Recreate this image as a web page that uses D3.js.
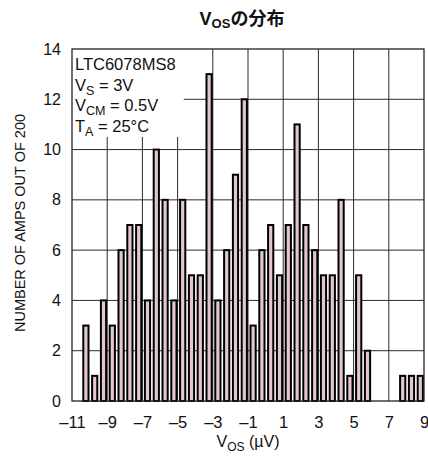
<!DOCTYPE html>
<html>
<head>
<meta charset="utf-8">
<script src="https://cdn.jsdelivr.net/npm/d3@7"></script>
<style>
  html, body { margin: 0; padding: 0; background: #fff; }
  svg { display: block; }
  text { font-family: "Liberation Sans Narrow", "Arial Narrow", "Liberation Sans", sans-serif; fill: #111; }
</style>
</head>
<body>
<div id="chart"></div>
<script>
// Histogram bins: 0.5 µV wide, left edges from -11 to 8.5 µV
const binStarts = d3.range(40).map(i => -11 + i * 0.5);
const counts = [0, 3, 1, 4, 3, 6, 7, 7, 4, 10,
                8, 4, 8, 5, 5, 13, 4, 6, 9, 12,
                3, 6, 7, 5, 7, 11, 7, 6, 5, 5,
                8, 1, 5, 2, 0, 0, 0, 1, 1, 1];
const xTicks = [-11, -9, -7, -5, -3, -1, 1, 3, 5, 7, 9];
const yTicks = [0, 2, 4, 6, 8, 10, 12, 14];
const xGrid = [-9, -7, -5, -3, -1, 1, 3, 5, 7];
const yGrid = [2, 4, 6, 8, 10, 12];
const noteLines = [
  [["LTC6078MS8", false]],
  [["V", false], ["S", true], [" = 3V", false]],
  [["V", false], ["CM", true], [" = 0.5V", false]],
  [["T", false], ["A", true], [" = 25°C", false]]
];

const W = 428, H = 456;
const m = { left: 72, right: 4, top: 49, bottom: 55 };
const pw = W - m.left - m.right, ph = H - m.top - m.bottom;

const svg = d3.select("#chart").append("svg").attr("width", W).attr("height", H);
const g = svg.append("g").attr("transform", `translate(${m.left},${m.top})`);

const x = d3.scaleLinear().domain([-11, 9]).range([0, pw]);
const y = d3.scaleLinear().domain([0, 14]).range([ph, 0]);

// grid
g.append("g").selectAll("line").data(xGrid).join("line")
  .attr("x1", d => x(d)).attr("x2", d => x(d))
  .attr("y1", 0).attr("y2", ph)
  .attr("stroke", "#2a2a2a").attr("stroke-width", 1);
g.append("g").selectAll("line").data(yGrid).join("line")
  .attr("x1", 0).attr("x2", pw)
  .attr("y1", d => y(d)).attr("y2", d => y(d))
  .attr("stroke", "#2a2a2a").attr("stroke-width", 1);

// white panel behind the conditions note
g.append("rect").attr("x", 0).attr("y", 0)
  .attr("width", x(-4.65) - x(-11)).attr("height", y(10.5))
  .attr("fill", "#fff");

// bars
const bw = x(-10.5) - x(-11);
g.append("g").selectAll("rect")
  .data(binStarts.map((s, i) => ({ s, v: counts[i] })).filter(d => d.v > 0))
  .join("rect")
  .attr("x", d => x(d.s) + 2.5)
  .attr("width", bw - 3.6)
  .attr("y", d => y(d.v))
  .attr("height", d => y(0) - y(d.v))
  .attr("fill", "#e4c6d1")
  .attr("stroke", "#000")
  .attr("stroke-width", 2);

// frame
g.append("rect").attr("x", 0).attr("y", 0).attr("width", pw).attr("height", ph)
  .attr("fill", "none").attr("stroke", "#222").attr("stroke-width", 1.3);

// axes
const xAxis = d3.axisBottom(x).tickValues(xTicks).tickSize(0)
  .tickFormat(d => d < 0 ? "–" + Math.abs(d) : String(d));
const gx = g.append("g").attr("transform", `translate(0,${ph})`).call(xAxis);
gx.select(".domain").remove();
gx.selectAll("text").attr("dy", 0).attr("y", 27).style("font-size", "16.5px")
  .style("font-family", '"Liberation Sans Narrow", "Arial Narrow", sans-serif');

const yAxis = d3.axisLeft(y).tickValues(yTicks).tickSize(0);
const gy = g.append("g").call(yAxis);
gy.select(".domain").remove();
gy.selectAll("text").attr("x", -11).attr("dy", "0.32em").style("font-size", "16px")
  .style("font-family", '"Liberation Sans Narrow", "Arial Narrow", sans-serif');

// conditions note
const note = g.append("text").attr("x", 3).style("font-size", "16.5px");
noteLines.forEach((parts, i) => {
  const baseline = 21 + i * 20.7;
  parts.forEach(([t, sub], j) => {
    const ts = note.append("tspan").text(t);
    if (j === 0) ts.attr("x", 3).attr("y", baseline);
    if (sub) ts.attr("y", baseline + 4).style("font-size", "12.5px");
    else if (j > 0) ts.attr("y", baseline);
  });
});

// title
const title = svg.append("text").attr("x", 242).attr("y", 25)
  .attr("text-anchor", "middle").style("font-size", "18px").style("font-weight", "bold");
title.append("tspan").text("V");
title.append("tspan").text("OS").attr("dy", 3).style("font-size", "13px");
title.append("tspan").text("の分布").attr("dy", -3)
  .style("font-family", '"Noto Sans CJK JP", sans-serif').style("font-size", "18px");

// axis titles
const xt = svg.append("text").attr("x", 248).attr("y", 447)
  .attr("text-anchor", "middle").style("font-size", "16px");
xt.append("tspan").text("V");
xt.append("tspan").text("OS").attr("dy", 4).style("font-size", "12px");
xt.append("tspan").text(" (µV)").attr("dy", -4);

svg.append("text")
  .attr("transform", "translate(25,223) rotate(-90)")
  .attr("text-anchor", "middle").style("font-size", "14.5px")
  .text("NUMBER OF AMPS OUT OF 200");
</script>
</body>
</html>
